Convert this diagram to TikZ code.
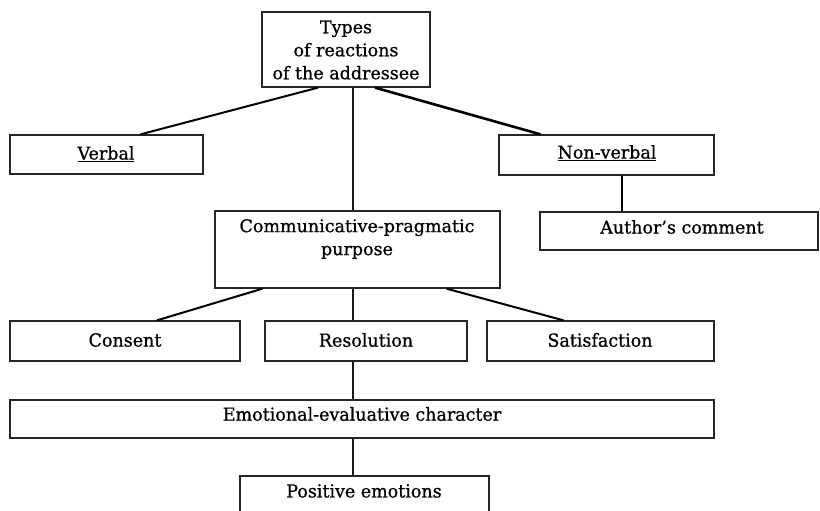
\documentclass[tikz,border=0pt]{standalone}
\usepackage{fontspec}
\setmainfont[FakeBold=0.8]{DejaVu Serif}
\newfontfamily\condfont[FakeStretch=1.08,FakeBold=0.8]{DejaVu Serif Condensed}
\begin{document}
\begin{tikzpicture}[x=1pt,y=-1pt,
  box/.style={draw=black!85, line width=1.3pt, inner sep=0pt},
  lbl/.style={font=\fontsize{17.5}{23}\selectfont, align=center, inner sep=0pt},
  clbl/.style={font=\condfont\fontsize{18}{23}\selectfont, align=center, inner sep=0pt},
  thinline/.style={draw=black!90, line width=1.2pt},
  boldline/.style={draw=black, line width=2.6pt},
  midline/.style={draw=black, line width=2pt}]
\clip (0,0) rectangle (820,511);
\fill[white] (0,0) rectangle (820,511);
% boxes
\node[box, minimum width=168pt, minimum height=75pt] (top) at (346,49.5) {};
\node[box, minimum width=193pt, minimum height=39pt] (verbal) at (106.5,154.5) {};
\node[box, minimum width=215pt, minimum height=40pt] (nonverbal) at (606.5,155) {};
\node[box, minimum width=278pt, minimum height=38pt] (author) at (679,231) {};
\node[box, minimum width=285pt, minimum height=77pt] (comm) at (357.5,249.5) {};
\node[box, minimum width=230pt, minimum height=40pt] (consent) at (125,341) {};
\node[box, minimum width=202pt, minimum height=40pt] (resol) at (366,341) {};
\node[box, minimum width=227pt, minimum height=40pt] (satis) at (600.5,341) {};
\node[box, minimum width=704pt, minimum height=38pt] (emo) at (362,419) {};
\node[box, minimum width=249pt, minimum height=60pt] (pos) at (364.5,506) {};
% texts
\node[lbl] (topT) at (346,50) {Types\\of reactions\\of the addressee};
\node[lbl] (verbalT) at (106,154) {\underline{Verbal}};
\node[lbl] (nonverbalT) at (607,153) {\underline{Non-verbal}};
\node[lbl] (authorT) at (682,227) {Author’s comment};
\node[lbl] (commT) at (357,239) {Communicative-pragmatic\\purpose};
\node[clbl] (consentT) at (125,340) {Consent};
\node[clbl] (resolT) at (366,340) {Resolution};
\node[clbl] (satisT) at (600,340) {Satisfaction};
\node[clbl] (emoT) at (362,414) {Emotional-evaluative character};
\node[clbl] (posT) at (364,491) {Positive emotions};
% connectors
\draw[midline] ([xshift=-28pt]top.south) -- ([xshift=34pt]verbal.north);
\draw[thinline] ([xshift=7pt]top.south) -- ([xshift=-4.5pt]comm.north);
\draw[boldline] ([xshift=29pt]top.south) -- ([xshift=-66pt]nonverbal.north);
\draw[boldline] ([xshift=15.5pt]nonverbal.south) -- ([xshift=15.5pt]nonverbal.south |- author.north);
\draw[midline] ([xshift=-95pt]comm.south) -- ([xshift=32pt]consent.north);
\draw[thinline] ([xshift=-4.5pt]comm.south) -- ([xshift=-13pt]resol.north);
\draw[midline] ([xshift=89pt]comm.south) -- ([xshift=-37pt]satis.north);
\draw[thinline] ([xshift=-13pt]resol.south) -- ([xshift=-9pt]emo.north);
\draw[thinline] ([xshift=-9pt]emo.south) -- ([xshift=-11.5pt]pos.north);
\end{tikzpicture}
\end{document}
